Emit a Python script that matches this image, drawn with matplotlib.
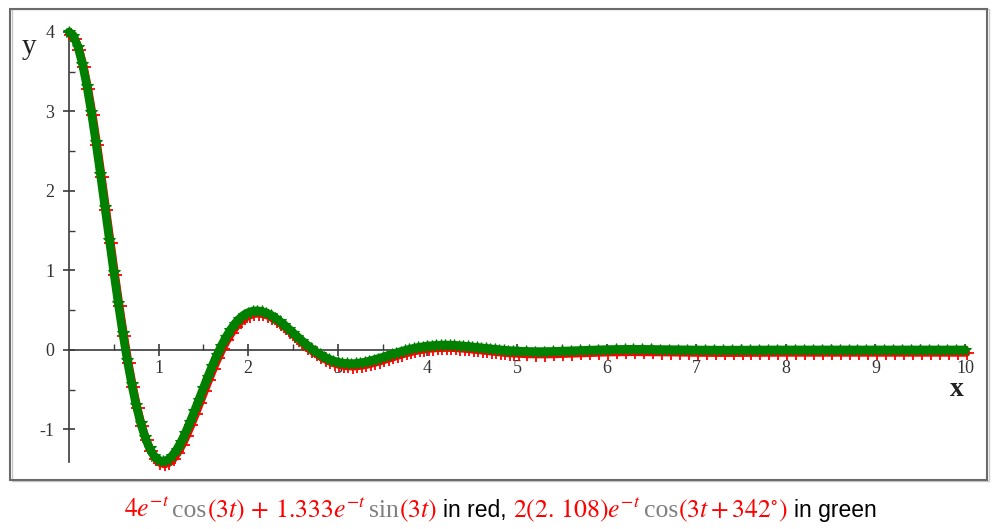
import numpy as np
import matplotlib.pyplot as plt
from matplotlib.patches import Rectangle
from matplotlib import transforms

plt.rcParams['mathtext.fontset'] = 'stix'

# sample points (same curve for both forms)
x_near = [0.00, 0.05, 0.10, 0.15, 0.20, 0.25, 0.30, 0.35, 0.40, 0.45,
          0.50, 0.55, 0.60, 0.65, 0.70, 0.75, 0.80, 0.85, 0.90, 0.95,
          1.00, 1.05, 1.10, 1.15, 1.20, 1.25, 1.30, 1.35, 1.40, 1.45,
          1.50, 1.55, 1.60, 1.65, 1.70, 1.75, 1.80, 1.85, 1.90, 1.95,
          2.00, 2.05, 2.10, 2.15, 2.20, 2.25, 2.30, 2.35, 2.40, 2.45,
          2.50, 2.55, 2.60, 2.65, 2.70, 2.75, 2.80, 2.85, 2.90, 2.95,
          3.00, 3.05, 3.10, 3.15, 3.20, 3.25, 3.30, 3.35, 3.40, 3.45,
          3.50, 3.55, 3.60, 3.65, 3.70, 3.75, 3.80, 3.85, 3.90, 3.95,
          4.00, 4.05, 4.10, 4.15, 4.20, 4.25, 4.30, 4.35, 4.40, 4.45,
          4.50, 4.55, 4.60, 4.65, 4.70, 4.75, 4.80, 4.85, 4.90, 4.95, 5.00]
y_near = [4.000, 3.952, 3.814, 3.599, 3.319, 2.987, 2.616, 2.217, 1.804, 1.388,
          0.978, 0.584, 0.214, -0.128, -0.431, -0.697, -0.921, -1.101, -1.239, -1.334,
          -1.388, -1.404, -1.385, -1.335, -1.258, -1.159, -1.041, -0.910, -0.770, -0.625,
          -0.479, -0.335, -0.197, -0.068, 0.051, 0.157, 0.249, 0.328, 0.390, 0.438,
          0.469, 0.488, 0.492, 0.485, 0.467, 0.440, 0.404, 0.362, 0.317, 0.267,
          0.216, 0.165, 0.115, 0.067, 0.021, -0.020, -0.057, -0.089, -0.116, -0.137,
          -0.154, -0.165, -0.171, -0.173, -0.170, -0.163, -0.154, -0.141, -0.126, -0.110,
          -0.093, -0.075, -0.057, -0.039, -0.022, -0.007, 0.008, 0.021, 0.032, 0.041,
          0.049, 0.054, 0.058, 0.060, 0.061, 0.060, 0.057, 0.054, 0.049, 0.044,
          0.038, 0.032, 0.026, 0.020, 0.014, 0.008, 0.002, -0.003, -0.008, -0.011, -0.015]
x_far = [5.1, 5.2, 5.3, 5.4, 5.5, 5.6, 5.7, 5.8, 5.9, 6.0,
         6.1, 6.2, 6.3, 6.4, 6.5, 6.6, 6.7, 6.8, 6.9, 7.0,
         7.1, 7.2, 7.3, 7.4, 7.5, 7.6, 7.7, 7.8, 7.9, 8.0,
         8.1, 8.2, 8.3, 8.4, 8.5, 8.6, 8.7, 8.8, 8.9, 9.0,
         9.1, 9.2, 9.3, 9.4, 9.5, 9.6, 9.7, 9.8, 9.9, 10.0]
y_far = [-0.019, -0.021, -0.021, -0.019, -0.015, -0.011, -0.007, -0.003, 0.001, 0.004,
         0.006, 0.007, 0.008, 0.007, 0.006, 0.005, 0.003, 0.002, 0.000, -0.001,
         -0.002, -0.002, -0.003, -0.003, -0.002, -0.002, -0.001, -0.001, 0.000, 0.000,
         0.000, 0.001, 0.001, 0.001, 0.001, 0.001, 0.000, 0.000, 0.000, 0.000,
         0.000, 0.000, 0.000, 0.000, 0.000, 0.000, 0.000, 0.000, 0.000, 0.000]

x_ticks = [1, 2, 3, 4, 5, 6, 7, 8, 9, 10]
y_ticks = [-1, 0, 1, 2, 3, 4]

RED = '#ff0000'
GREEN = '#008000'
GRAY = '#808080'

xs = np.array(x_near + x_far)
ys = np.array(y_near + y_far)

fig = plt.figure(figsize=(10, 5.29), dpi=100)
ax = fig.add_axes([0.069, 0.1267, 0.896, 0.8129])
ax.patch.set_visible(False)

# red (+) drawn a touch lower/right so it peeks out under the green
red_tr = transforms.offset_copy(ax.transData, fig=fig, x=1.5, y=-3, units='dots')
ax.plot(xs, ys, color=RED, lw=5.5, marker='+', ms=10, mew=1.3,
        transform=red_tr, clip_on=False, solid_capstyle='round')
ax.plot(xs, ys, color=GREEN, lw=6.2, marker='*', ms=8.5, mew=0.8,
        clip_on=False, solid_capstyle='round')

ax.set_xlim(0, 10)
ax.set_ylim(-1.41, 4.0)
for s in ['top', 'right']:
    ax.spines[s].set_visible(False)
ax.spines['bottom'].set_position(('data', 0))
ax.spines['left'].set_position(('data', 0))
for s in ['bottom', 'left']:
    ax.spines[s].set_color('#3a3a3a')
    ax.spines[s].set_linewidth(1.2)
    ax.spines[s].set_zorder(0.5)

ax.set_xticks(x_ticks)
ax.set_xticklabels([str(v) for v in x_ticks])
ax.set_xticks(np.arange(0.5, 10, 1.0), minor=True)
ax.set_yticks(y_ticks)
ax.set_yticklabels([str(v) for v in y_ticks])
ax.set_yticks(np.arange(-0.5, 4, 1.0), minor=True)
ax.tick_params(which='major', direction='inout', length=9, width=1.2,
               color='#3a3a3a', labelsize=13, labelcolor='#333333',
               labelfontfamily='Liberation Serif')
ax.tick_params(which='minor', direction='in', length=4, width=1.0, color='#3a3a3a')
ax.tick_params(axis='x', which='major', pad=3)
ax.tick_params(axis='y', which='major', pad=6)

fig.text(0.957, 1 - 390 / 529, 'x', fontsize=20, family='Liberation Serif',
         ha='center', va='center', color='#222222', weight='bold')
fig.text(0.029, 1 - 47 / 529, 'y', fontsize=21, family='Liberation Serif',
         ha='center', va='center', color='#222222')

# frame round the plot
fig.add_artist(Rectangle((11.5 / 1000, (529 - 481) / 529), 977 / 1000, 472 / 529,
                         transform=fig.transFigure, fill=False, ec='#c8c8c8', lw=1.0))
fig.add_artist(Rectangle((10 / 1000, (529 - 480) / 529), 977 / 1000, 471 / 529,
                         transform=fig.transFigure, fill=False, ec='#6b6b6b', lw=1.5))

# caption, built piece by piece
segs = [
    (r'$4e^{-t}$', RED, 'serif', 0),
    ('cos', GRAY, 'Liberation Serif', 3),
    (r'$(3t)\,+\,1.333e^{-t}$', RED, 'serif', 0),
    ('sin', GRAY, 'Liberation Serif', 3),
    (r'$(3t)$', RED, 'serif', 0),
    ('in red,', 'black', 'Liberation Sans', 6),
    (r'$2(2.\,108)e^{-t}$', RED, 'serif', 7),
    ('cos', GRAY, 'Liberation Serif', 3),
    (r'$(3t + 342^{\circ})$', RED, 'serif', 0),
    ('in green', 'black', 'Liberation Sans', 6),
]
fig.canvas.draw()
rend = fig.canvas.get_renderer()
ident = transforms.IdentityTransform()
base_y = 529 - 517
cur = 0
pieces = []
for s, c, fam, gap in segs:
    size = 16.5 if fam == 'Liberation Sans' else 18.5
    t = fig.text(cur + gap, base_y, s, color=c, family=fam, fontsize=size,
                 transform=ident, va='baseline', ha='left')
    bb = t.get_window_extent(rend)
    cur = bb.x1
    pieces.append(t)
shift = 500 - cur / 2
for t in pieces:
    x0, y0 = t.get_position()
    t.set_position((x0 + shift, y0))

fig.savefig('out.png', dpi=100)
